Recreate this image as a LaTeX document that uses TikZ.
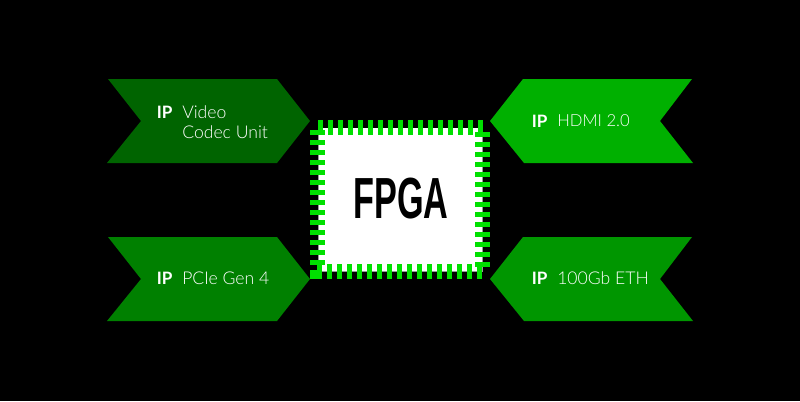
\documentclass[tikz,border=0pt]{standalone}
\usepackage{fontspec}
\setmainfont{Lato}
\newfontfamily\lightfont{Lato Light}
\newfontfamily\chipfont[FakeStretch=0.59]{Liberation Sans}
\definecolor{pingreen}{RGB}{0,224,0}
\definecolor{cA}{RGB}{0,100,0}
\definecolor{cB}{RGB}{0,176,0}
\definecolor{cC}{RGB}{0,128,0}
\definecolor{cD}{RGB}{0,150,0}
\tikzset{
  x=0.75pt,y=-0.75pt,
  lbl/.style={text=white,anchor=base west,inner sep=0pt,font=\fontsize{13.2}{15}\selectfont\lightfont},
  iplbl/.style={text=white,anchor=base west,inner sep=0pt,font=\fontsize{12.8}{15}\selectfont\bfseries},
  pin/.style={fill=pingreen,draw=none},
  chev/.style={draw=none}
}
\begin{document}
\begin{tikzpicture}
\useasboundingbox (0,0) rectangle (800,401);
\fill[black] (0,0) rectangle (800,401);
% chevrons
\fill[cA,chev] (108,79) -- (277,79) -- (310,121) -- (277,163) -- (107,163) -- (141,121) -- cycle;
\fill[cC,chev] (108,237) -- (277,237) -- (310,279) -- (277,321) -- (107,321) -- (141,279) -- cycle;
\fill[cB,chev] (692,79) -- (523,79) -- (490,121) -- (524,163) -- (693,163) -- (660,121) -- cycle;
\fill[cD,chev] (692,237) -- (523,237) -- (490,279) -- (524,321) -- (693,321) -- (660,279) -- cycle;
% chip body
\fill[white!60!black] (318,127.5) rectangle (483,272);
\fill[white] (319,128) rectangle (482,271);
% pins
\foreach \i in {0,...,16} \fill[pin] ({318+10*\i},120) rectangle +(5,15);
\foreach \i in {0,...,16} \fill[pin] ({317+10*\i},264) rectangle +(5,15);
\foreach \i in {0,...,13} \fill[pin] (310,{130+10*\i}) rectangle +(15,5);
\foreach \i in {0,...,13} \fill[pin] (475,{132+10*\i}) rectangle +(15,5);
\fill[pin] (310,270) rectangle (322,279);
% labels
\node[inner sep=0pt,text=black,anchor=base] (chip) at (401,218) {\fontsize{43.5}{44}\selectfont\chipfont\bfseries FPGA};
\node[iplbl] (ipa) at (156.5,118) {IP};
\node[lbl] (va) at (182,118) {Video};
\node[lbl] (vb) at (182,138) {Codec Unit};
\node[iplbl] (ipb) at (156.5,284.5) {IP};
\node[lbl] (pc) at (182,284.5) {PCIe Gen 4};
\node[iplbl] (ipc) at (531.5,127.5) {IP};
\node[lbl,font=\fontsize{12.5}{15}\selectfont\lightfont] (hd) at (557,126.5) {HDMI 2.0};
\node[iplbl] (ipd) at (531.5,284.5) {IP};
\node[lbl] (et) at (557,284.5) {100Gb ETH};
\end{tikzpicture}
\end{document}
